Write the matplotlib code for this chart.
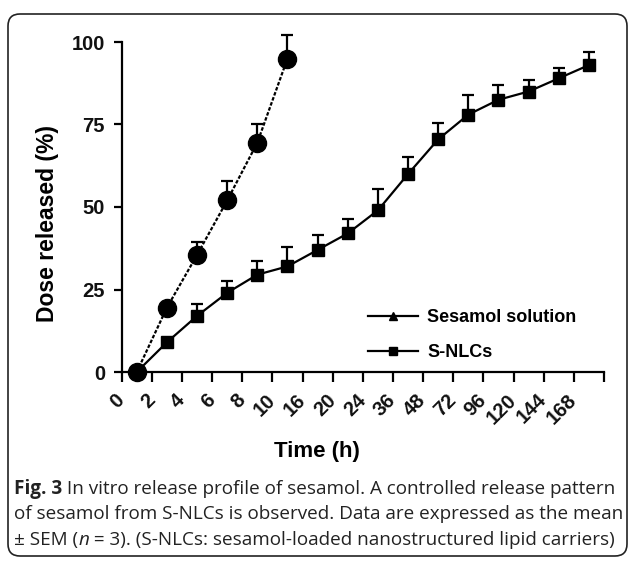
import numpy as np
import matplotlib.pyplot as plt
from matplotlib.lines import Line2D
from matplotlib.patches import FancyBboxPatch
from matplotlib.transforms import IdentityTransform

# time points shown as categories on the x axis
time_labels = ['0', '2', '4', '6', '8', '10', '16', '20', '24', '36', '48',
               '72', '96', '120', '144', '168']

# sesamol solution (first 6 time points)
sol_mean = [0, 19.5, 35.5, 52, 69.5, 95]
sol_sem = [0.5, 1.5, 4, 6, 5.5, 7]

# S-NLCs (all time points)
nlc_mean = [0, 9, 17, 24, 29.5, 32, 37, 42, 49, 60, 70.5, 78, 82.5, 85, 89, 93]
nlc_sem = [0.5, 1, 3.5, 3.5, 4, 6, 4.5, 4.5, 6.5, 5, 5, 6, 4.5, 3.5, 3, 4]

W, H = 629, 561
fig = plt.figure(figsize=(W / 100, H / 100), dpi=100)
fig.patch.set_facecolor('white')

# rounded frame around chart + caption
frame = FancyBboxPatch((8, H - 556), 619, 542, boxstyle='round,pad=0,rounding_size=12',
                       transform=IdentityTransform(), fill=False, ec='#222222', lw=1.2)
fig.patches.append(frame)

ax = fig.add_axes([121.7 / W, (H - 372) / H, (604 - 121.7) / W, (372 - 42) / H])

xs_sol = np.arange(len(sol_mean)) + 0.5
xs_nlc = np.arange(len(nlc_mean)) + 0.5

ax.errorbar(xs_sol, sol_mean, yerr=[np.zeros(len(sol_sem)), sol_sem], fmt='o',
            color='black', ms=13, ecolor='black', elinewidth=1.6, capsize=4.5,
            capthick=1.6, clip_on=False, zorder=3)
ax.plot(xs_sol, sol_mean, color='black', lw=1.6, ls=(0, (1.6, 0.8)), clip_on=False)

ax.errorbar(xs_nlc, nlc_mean, yerr=[np.zeros(len(nlc_sem)), nlc_sem], fmt='s',
            color='black', ms=9, ecolor='black', elinewidth=1.6, capsize=4.5,
            capthick=1.6, clip_on=False, zorder=3)
ax.plot(xs_nlc, nlc_mean, color='black', lw=1.6, clip_on=False)

ax.set_xlim(0, 16)
ax.set_ylim(0, 100)
ax.spines['top'].set_visible(False)
ax.spines['right'].set_visible(False)
ax.spines['left'].set_linewidth(1.6)
ax.spines['bottom'].set_linewidth(1.6)
ax.spines['left'].set_bounds(0, 100)

ax.set_yticks([0, 25, 50, 75, 100])
ax.set_xticks(np.arange(0, 17))
ax.set_xticklabels(time_labels + [''])
for lab in ax.get_xticklabels():
    lab.set_rotation(45)
    lab.set_ha('right')
    lab.set_va('center')
    lab.set_rotation_mode('anchor')
ax.tick_params(axis='y', length=6, width=1.6, pad=6, labelsize=14.5)
ax.tick_params(axis='x', length=7, width=1.6, pad=11, labelsize=14.5)
for lab in ax.get_xticklabels() + ax.get_yticklabels():
    lab.set_fontfamily('Liberation Sans')
    lab.set_fontweight('bold')
    lab.set_color('#111111')

fig.text(317 / W, (H - 452) / H, 'Time (h)', ha='center', va='center',
         fontsize=16, fontweight='bold', family='Liberation Sans')
fig.text(48 / W, (H - 223) / H, 'Dose released (%)', ha='center', va='center',
         rotation=90, fontsize=16.5, fontweight='bold', family='Liberation Sans')

handles = [Line2D([], [], color='black', lw=1.6, marker='^', ms=6),
           Line2D([], [], color='black', lw=1.6, marker='s', ms=6)]
ax.legend(handles, ['Sesamol solution', 'S-NLCs'], loc='center left',
          bbox_to_anchor=(0.51, 0.112), frameon=False, borderpad=0, borderaxespad=0,
          handlelength=2.8, handletextpad=0.5, labelspacing=1.0,
          prop={'family': 'Liberation Sans', 'weight': 'bold', 'size': 13})

# caption, written piece by piece so bold/italic parts line up
caption = [
    [('Fig. 3', 'bold', 'normal'),
     (' In vitro release profile of sesamol. A controlled release pattern', 'normal', 'normal')],
    [('of sesamol from S-NLCs is observed. Data are expressed as the mean', 'normal', 'normal')],
    [('± SEM (', 'normal', 'normal'), ('n', 'normal', 'italic'),
     (' = 3). (S-NLCs: sesamol-loaded nanostructured lipid carriers)', 'normal', 'normal')],
]
line_y = [489, 514, 540]
renderer = fig.canvas.get_renderer()
for parts, yy in zip(caption, line_y):
    x = 14
    for txt, weight, style in parts:
        t = fig.text(x / W, (H - yy) / H, txt, ha='left', va='center', fontsize=13.6,
                     fontweight=weight, fontstyle=style, family='Open Sans',
                     color='#222222')
        x = t.get_window_extent(renderer).x1

fig.savefig('out.png', dpi=100)
